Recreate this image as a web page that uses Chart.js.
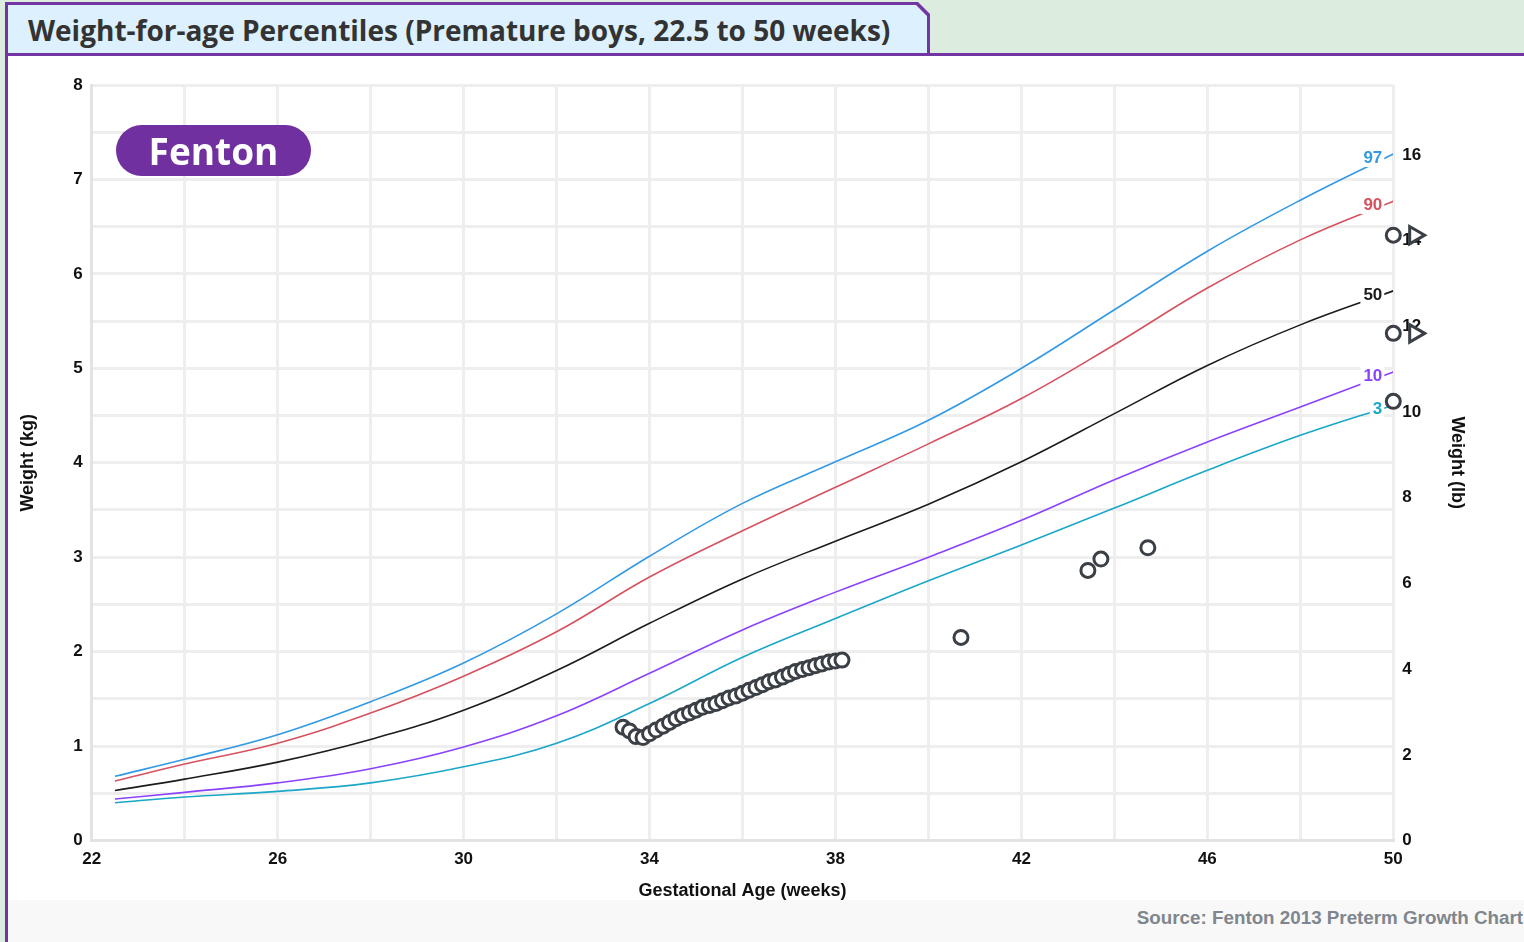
<!DOCTYPE html>
<html>
<head>
<meta charset="utf-8">
<script src="https://cdn.jsdelivr.net/npm/chart.js@4.4.0/dist/chart.umd.min.js"></script>
<style>
  html, body { margin: 0; padding: 0; }
  body { width: 1524px; height: 942px; background: #dcede0; position: relative; overflow: hidden; font-family: 'Liberation Sans', Arial, sans-serif; }
  #tab { position: absolute; left: 5px; top: 2px; width: 925px; height: 54px; background: #7335a3;
         clip-path: polygon(0 0, 913px 0, 925px 12px, 925px 100%, 0 100%); }
  #tab .inner { position: absolute; left: 3px; top: 3px; width: 919px; bottom: 0; background: #dcf0fd;
         clip-path: polygon(0 0, 908px 0, 919px 11px, 919px 100%, 0 100%); }
  #tab .inner span { position: absolute; left: 20px; top: 6px; font-family: 'Open Sans', sans-serif; font-weight: 700;
         font-size: 28px; color: #333; white-space: nowrap; }
  #panel { position: absolute; left: 5px; top: 53px; width: 1516px; height: 886px; background: #fff;
           border-top: 3px solid #7335a3; border-left: 3px solid #7335a3; }
  #footer { position: absolute; left: 8px; top: 900px; width: 1516px; height: 42px; background: #f8f8f8; }
  #footer span { position: absolute; right: 1px; top: 7px; font-weight: 700; font-size: 18.8px; color: #7f868d; white-space: nowrap; }
  #chart { position: absolute; left: 10px; top: 58px; }
  #badge { position: absolute; left: 116px; top: 125px; width: 195px; height: 51px; border-radius: 26px; background: #7030a0;
           color: #fff; font-family: 'Open Sans', sans-serif; font-weight: 700; font-size: 37px; line-height: 51px; text-align: center; }
</style>
</head>
<body>
<div id="tab"><div class="inner"><span>Weight-for-age Percentiles (Premature boys, 22.5 to 50 weeks)</span></div></div>
<div id="panel"></div>
<div id="footer"><span>Source: Fenton 2013 Preterm Growth Chart</span></div>
<canvas id="chart" width="1514" height="844"></canvas>
<div id="badge">Fenton</div>
<script>
// percentile curves (kg) at gestational age (weeks)
const weeks = [22.5, 24, 26, 28, 30, 32, 34, 36, 38, 40, 42, 44, 46, 48, 50];
const p97 = [0.68, 0.86, 1.12, 1.47, 1.88, 2.40, 3.01, 3.57, 4.01, 4.45, 5.00, 5.62, 6.24, 6.78, 7.27];
const p90 = [0.63, 0.81, 1.03, 1.35, 1.74, 2.21, 2.79, 3.28, 3.74, 4.20, 4.68, 5.25, 5.85, 6.36, 6.77];
const p50 = [0.53, 0.65, 0.83, 1.07, 1.38, 1.80, 2.30, 2.77, 3.17, 3.56, 4.01, 4.52, 5.03, 5.46, 5.82];
const p10 = [0.44, 0.51, 0.61, 0.76, 0.99, 1.32, 1.77, 2.23, 2.63, 3.00, 3.39, 3.82, 4.22, 4.59, 4.96];
const p3  = [0.40, 0.46, 0.52, 0.61, 0.78, 1.03, 1.45, 1.94, 2.35, 2.75, 3.13, 3.52, 3.92, 4.29, 4.61];

// measured weights
const ageWeeks = [33.43, 33.57, 33.71, 33.86, 34.00, 34.14, 34.29, 34.43, 34.57, 34.71, 34.86, 35.00,
  35.14, 35.29, 35.43, 35.57, 35.71, 35.86, 36.00, 36.14, 36.29, 36.43, 36.57, 36.71, 36.86, 37.00,
  37.14, 37.29, 37.43, 37.57, 37.71, 37.86, 38.00, 38.14, 40.70, 43.43, 43.71, 44.72];
const weightKg = [1.20, 1.16, 1.10, 1.09, 1.13, 1.17, 1.21, 1.25, 1.29, 1.32, 1.35, 1.38,
  1.41, 1.43, 1.45, 1.48, 1.51, 1.53, 1.56, 1.59, 1.62, 1.65, 1.68, 1.70, 1.73, 1.76,
  1.79, 1.81, 1.83, 1.85, 1.87, 1.89, 1.90, 1.91, 2.15, 2.86, 2.98, 3.10];

// markers sitting on the right edge
const edgeKg = [6.41, 5.37, 4.65];
const edgeCircleWeek = 50;
const edgeArrowWeek = 50.46;

const KG_PER_LB = 0.45359237;
const tickFont = { family: 'Liberation Sans', weight: 'bold', size: 17 };
const titleFont = { family: 'Liberation Sans', weight: 'bold', size: 18 };

function curve(label, values, color) {
  return {
    label: label,
    isCurve: true,
    data: weeks.map((w, i) => ({ x: w, y: values[i] })),
    borderColor: color,
    borderWidth: 1.6,
    pointRadius: 0,
    tension: 0.4,
    fill: false
  };
}

// percentile number at the end of each curve, on a white box
const percentileLabels = {
  id: 'percentileLabels',
  afterDatasetDraw(chart, args) {
    const ds = chart.data.datasets[args.index];
    if (!ds.isCurve) return;
    const pts = args.meta.data;
    const pt = pts[pts.length - 1];
    const c = chart.ctx;
    c.save();
    c.font = 'bold 17px "Liberation Sans"';
    const w = c.measureText(ds.label).width;
    const right = pt.x - 11, cy = pt.y + 4;
    c.fillStyle = '#fff';
    c.fillRect(right - w - 3, cy - 9, w + 5, 18);
    c.fillStyle = ds.borderColor;
    c.textAlign = 'right';
    c.textBaseline = 'middle';
    c.fillText(ds.label, right, cy);
    c.restore();
  }
};

const markStyle = {
  showLine: false,
  pointRadius: 7,
  pointBorderWidth: 3,
  pointBorderColor: '#3b4046',
  pointBackgroundColor: '#fff'
};

// fixed axis sizes so the plot area sits where the frame expects it
function sideAxis(width) {
  return s => { s.width = width; };
}

new Chart(document.getElementById('chart'), {
  type: 'line',
  data: {
    datasets: [
      Object.assign({ label: 'weights', data: ageWeeks.map((a, i) => ({ x: a, y: weightKg[i] })) }, markStyle),
      Object.assign({ label: 'edge', clip: false, data: edgeKg.map(k => ({ x: edgeCircleWeek, y: k })) }, markStyle),
      // hover radius keeps the arrows drawable outside the chart area
      Object.assign({}, markStyle, {
        label: 'arrows', clip: false, pointStyle: 'triangle', rotation: 90,
        pointRadius: 10, pointHoverRadius: 30,
        data: edgeKg.map(k => ({ x: edgeArrowWeek, y: k }))
      }),
      curve('97', p97, '#3399e3'),
      curve('90', p90, '#d6525f'),
      curve('50', p50, '#1c1c1c'),
      curve('10', p10, '#8a42fb'),
      curve('3', p3, '#1aa7c8')
    ]
  },
  options: {
    responsive: false,
    animation: false,
    events: [],
    layout: { autoPadding: false, padding: { top: 27, left: 0, right: 0, bottom: 0 } },
    plugins: { legend: { display: false }, tooltip: { enabled: false } },
    scales: {
      x: {
        type: 'linear', min: 22, max: 50,
        grid: { color: '#eeeeee', lineWidth: 3, drawTicks: false },
        border: { color: '#e3e3e3', width: 3 },
        ticks: { stepSize: 2, autoSkip: false, maxRotation: 0, padding: 9, color: '#111', font: tickFont,
                 callback: v => (v - 22) % 4 === 0 ? v : '' },
        title: { display: true, text: 'Gestational Age (weeks)', color: '#111', font: titleFont, padding: { bottom: 0, top: 0 } },
        afterFit: s => { s.height = 61.5; }
      },
      y: {
        position: 'left', min: 0, max: 8,
        grid: { color: '#eeeeee', lineWidth: 3, drawTicks: false },
        border: { color: '#e3e3e3', width: 3 },
        ticks: { stepSize: 0.5, autoSkip: false, padding: 9, color: '#111', font: tickFont,
                 callback: v => Number.isInteger(v) ? v : '' },
        title: { display: true, text: 'Weight (kg)', color: '#111', font: titleFont, padding: { top: 7 } },
        afterFit: sideAxis(81.7)
      },
      lb: {
        position: 'right', min: 0, max: 8 / KG_PER_LB,
        grid: { display: false, drawTicks: false },
        border: { display: false },
        ticks: { stepSize: 2, includeBounds: false, padding: 9, color: '#111', font: tickFont },
        title: { display: true, text: 'Weight (lb)', color: '#111', font: titleFont, padding: { top: 56 } },
        afterFit: sideAxis(130.7)
      }
    }
  },
  plugins: [percentileLabels]
});
</script>
</body>
</html>
